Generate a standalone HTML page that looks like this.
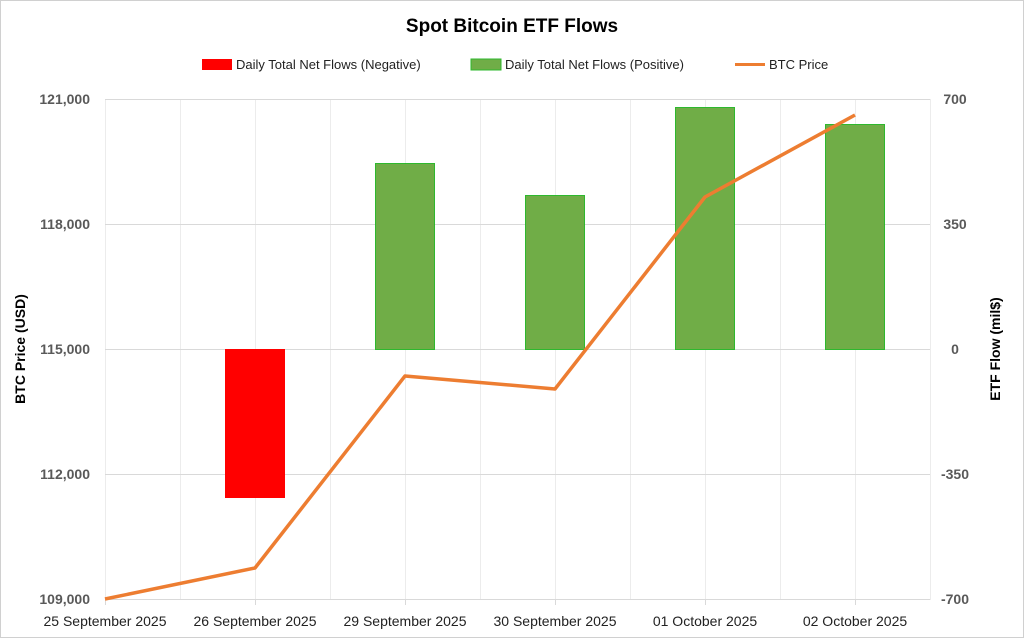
<!DOCTYPE html>
<html><head><meta charset="utf-8"><style>
body{margin:0;background:#fff}
svg{display:block;font-family:"Liberation Sans",Arial,sans-serif}
</style></head><body>
<svg width="1024" height="639" viewBox="0 0 1024 639" xmlns="http://www.w3.org/2000/svg">
<rect x="0.5" y="0.5" width="1023" height="637" fill="#fff" stroke="#d0d0d0"/>
<text x="512" y="32" text-anchor="middle" font-size="19" font-weight="bold" fill="#000">Spot Bitcoin ETF Flows</text>
<!-- legend -->
<rect x="202" y="59" width="30" height="11" fill="#ff0000"/>
<text x="236" y="69" font-size="13" fill="#222">Daily Total Net Flows (Negative)</text>
<rect x="471" y="59" width="30" height="11" fill="#70ad47" stroke="#2eb82e"/>
<text x="505" y="69" font-size="13" fill="#222">Daily Total Net Flows (Positive)</text>
<line x1="735" y1="64.5" x2="765" y2="64.5" stroke="#ed7d31" stroke-width="3"/>
<text x="769" y="69" font-size="13" fill="#222">BTC Price</text>
<!-- grid -->
<g stroke="#ececec" stroke-width="1">
<line x1="180.5" y1="99" x2="180.5" y2="600"/><line x1="255.5" y1="99" x2="255.5" y2="600"/>
<line x1="330.5" y1="99" x2="330.5" y2="600"/><line x1="405.5" y1="99" x2="405.5" y2="600"/>
<line x1="480.5" y1="99" x2="480.5" y2="600"/><line x1="555.5" y1="99" x2="555.5" y2="600"/>
<line x1="630.5" y1="99" x2="630.5" y2="600"/><line x1="705.5" y1="99" x2="705.5" y2="600"/>
<line x1="780.5" y1="99" x2="780.5" y2="600"/><line x1="855.5" y1="99" x2="855.5" y2="600"/>
<line x1="930.5" y1="99" x2="930.5" y2="600"/><line x1="105.5" y1="99" x2="105.5" y2="600"/>
</g>
<g stroke="#d9d9d9" stroke-width="1">
<line x1="105" y1="99.5" x2="930" y2="99.5"/><line x1="105" y1="224.5" x2="930" y2="224.5"/>
<line x1="105" y1="349.5" x2="930" y2="349.5"/><line x1="105" y1="474.5" x2="930" y2="474.5"/>
<line x1="105" y1="599.5" x2="930" y2="599.5"/>
<line x1="105.5" y1="600" x2="105.5" y2="605"/><line x1="255.5" y1="600" x2="255.5" y2="605"/>
<line x1="405.5" y1="600" x2="405.5" y2="605"/><line x1="555.5" y1="600" x2="555.5" y2="605"/>
<line x1="705.5" y1="600" x2="705.5" y2="605"/><line x1="855.5" y1="600" x2="855.5" y2="605"/>
</g>
<!-- bars -->
<rect x="225" y="349" width="60" height="149" fill="#ff0000"/>
<g fill="#70ad47" stroke="#2eb82e" stroke-width="1">
<rect x="375.5" y="163.5" width="59" height="186"/>
<rect x="525.5" y="195.5" width="59" height="154"/>
<rect x="675.5" y="107.5" width="59" height="242"/>
<rect x="825.5" y="124.5" width="59" height="225"/>
</g>
<polyline points="105,599 255,568 405,376 555,389 705,197 855,115" fill="none" stroke="#ed7d31" stroke-width="3.5" stroke-linejoin="round"/>
<!-- left axis -->
<g font-size="14" font-weight="bold" fill="#595959" text-anchor="end">
<text x="90" y="104">121,000</text><text x="90" y="229">118,000</text>
<text x="90" y="354">115,000</text><text x="90" y="479">112,000</text>
<text x="90" y="604">109,000</text>
</g>
<g font-size="14" font-weight="bold" fill="#595959" text-anchor="middle">
<text x="955" y="104">700</text><text x="955" y="229">350</text>
<text x="955" y="354">0</text><text x="955" y="479">-350</text>
<text x="955" y="604">-700</text>
</g>
<g font-size="14" fill="#222" text-anchor="middle">
<text x="105" y="626">25 September 2025</text><text x="255" y="626">26 September 2025</text>
<text x="405" y="626">29 September 2025</text><text x="555" y="626">30 September 2025</text>
<text x="705" y="626">01 October 2025</text><text x="855" y="626">02 October 2025</text>
</g>
<text transform="translate(25,349) rotate(-90)" text-anchor="middle" font-size="14" font-weight="bold" fill="#000">BTC Price (USD)</text>
<text transform="translate(1000,349) rotate(-90)" text-anchor="middle" font-size="14" font-weight="bold" fill="#000">ETF Flow (mil$)</text>
</svg>
</body></html>
